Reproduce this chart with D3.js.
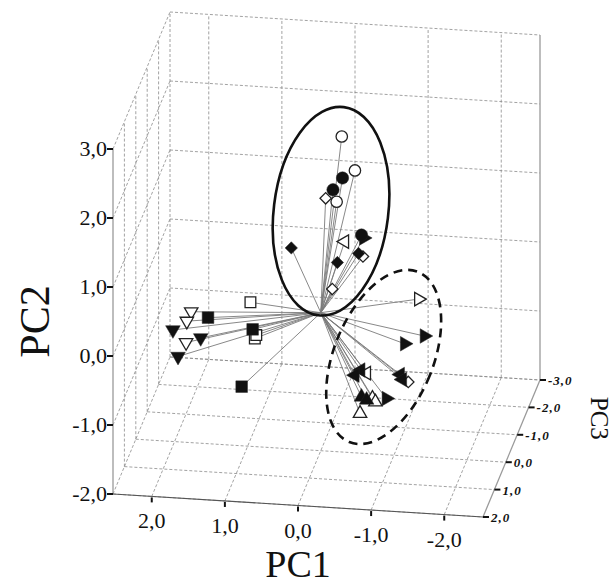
<!DOCTYPE html>
<html><head><meta charset="utf-8">
<script src="https://cdn.jsdelivr.net/npm/d3@7"></script>
<style>body{margin:0;background:#fff}text{font-family:"Liberation Serif","Times New Roman",serif;fill:#111}</style>
</head><body>
<svg id="c" width="613" height="587"></svg>
<script>
// ---- axes ----
const pc1Ticks = [2, 1, 0, -1, -2];
const pc2Ticks = [-2, -1, 0, 1, 2, 3];
const pc3Ticks = [-3, -2, -1, 0, 1, 2];
const pc1Domain = [2.53, -2.53];
const pc2Domain = [-2, 3];
const pc3Domain = [2, -3];

// ---- data (PC1, PC2, PC3), marker shape, filled ----
const shapes = [
  "circle","circle","circle","circle","diamond","circle","triRight","circle","triLeft","diamond","diamond","diamond","diamond","diamond",
  "triDown","triDown","square","square","triDown","triDown","triDown","triDown","square","square","square","square",
  "triRight","triRight","triRight","triLeft","triLeft","triLeft","diamond","triLeft","triLeft","triUp","triUp","triUp","triUp","triRight","triUp"
];
const filled = [
  0,0,1,1,0,0,1,1,0,1,0,1,1,0,
  0,0,1,0,1,1,0,1,0,0,1,1,
  0,1,1,0,1,1,0,1,1,0,0,1,1,1,0
];
const pc1 = [
  -0.24,-0.42,-0.25,-0.12,-0.02,-0.17,-0.54,-0.51,-0.28,0.45,-0.53,-0.47,-0.18,-0.11,
  1.71,1.77,1.48,0.90,1.96,1.58,1.78,1.89,0.84,0.82,0.87,1.02,
  -1.43,-1.51,-1.24,-0.72,-0.64,-0.56,-1.29,-1.18,-1.21,-0.80,-0.84,-0.65,-0.72,-0.99,-0.63
];
const pc2 = [
  2.45,1.97,1.85,1.67,1.54,1.50,1.00,1.04,0.93,0.79,0.73,0.77,0.62,0.23,
  0.06,-0.08,-0.01,0.25,-0.22,-0.31,-0.39,-0.60,-0.27,-0.22,-0.14,-0.98,
  0.53,0.00,-0.13,-0.59,-0.55,-0.63,-0.68,-0.58,-0.65,-0.95,-1.00,-0.94,-0.98,-0.94,-1.18
];
const pc3 = [
  -0.3,-0.3,-0.3,-0.3,-0.3,-0.3,-0.3,-0.3,-0.3,-0.3,-0.3,-0.3,-0.3,-0.3,
  0.4,0.4,0.4,0.4,0.4,0.4,0.4,0.4,0.4,0.4,0.4,0.4,
  0.6,0.6,0.6,0.6,0.6,0.6,0.6,0.6,0.6,0.6,0.6,0.6,0.6,0.6,0.6
];
// group ellipses: centre (PC1,PC2,PC3), radii in PC2 units, tilt (deg), dashed
const ellCenter = [[-0.14, 1.48, 0], [-0.86, -0.585, 0]];
const ellRadii = [[0.83, 1.52], [0.72, 1.33]];
const ellTilt = [7, 22];
const ellDashed = [false, true];

const fmt = d => d.toFixed(1).replace(".", ",");

// ---- projection built from linear scales ----
const s1 = d3.scaleLinear().domain(pc1Domain).range([0, 1]);
const s2 = d3.scaleLinear().domain(pc2Domain).range([0, 1]);
const s3 = d3.scaleLinear().domain(pc3Domain).range([0, 1]);
const P0 = [113, 494], U = [370, 23], V = [0, -345], Wv = [57, -137];
function proj(a, b, c) {
  const u = s1(a), v = s2(b), w = s3(c);
  return [P0[0] + u*U[0] + v*V[0] + w*Wv[0], P0[1] + u*U[1] + v*V[1] + w*Wv[1]];
}
const unitPC2 = 345 / 5;

const svg = d3.select("#c");
const g = svg.append("g");
const x0 = pc1Domain[0], x1 = pc1Domain[1], y0 = pc2Domain[0], y1 = pc2Domain[1], z0 = pc3Domain[0], z1 = pc3Domain[1];

function seg(a, b, cls) {
  const p = proj(...a), q = proj(...b);
  const l = g.append("line").attr("x1", p[0]).attr("y1", p[1]).attr("x2", q[0]).attr("y2", q[1]);
  if (cls === "grid") l.attr("stroke", "#8a8a8a").attr("stroke-width", 0.8).attr("stroke-dasharray", "3,2");
  else if (cls === "edge") l.attr("stroke", "#9a9a9a").attr("stroke-width", 1.3);
  else if (cls === "axis") l.attr("stroke", "#555").attr("stroke-width", 1.1);
  return l;
}
// back wall
pc1Ticks.forEach(t => seg([t, y0, z1], [t, y1, z1], "grid"));
pc2Ticks.forEach(t => seg([x0, t, z1], [x1, t, z1], "grid"));
// left wall
pc3Ticks.filter(t => t !== z0).forEach(t => seg([x0, y0, t], [x0, y1, t], "grid"));
pc2Ticks.forEach(t => seg([x0, t, z0], [x0, t, z1], "grid"));
// floor
pc1Ticks.forEach(t => seg([t, y0, z0], [t, y0, z1], "grid"));
pc3Ticks.forEach(t => seg([x0, y0, t], [x1, y0, t], "grid"));
// solid edges
seg([x0, y0, z0], [x0, y1, z0], "edge");
seg([x1, y0, z1], [x1, y1, z1], "edge");
seg([x0, y0, z0], [x1, y0, z0], "axis");
seg([x1, y0, z0], [x1, y0, z1], "edge");

// ticks & labels
pc2Ticks.forEach(t => {
  const p = proj(x0, t, z0);
  g.append("line").attr("x1", p[0]-6).attr("x2", p[0]).attr("y1", p[1]).attr("y2", p[1]).attr("stroke", "#111").attr("stroke-width", 2);
  g.append("text").attr("x", p[0]-6).attr("y", p[1]+7).attr("text-anchor", "end").attr("font-size", 22).text(fmt(t));
});
pc1Ticks.forEach(t => {
  const p = proj(t, y0, z0);
  g.append("line").attr("x1", p[0]).attr("x2", p[0]).attr("y1", p[1]+1).attr("y2", p[1]+6).attr("stroke", "#111").attr("stroke-width", 2);
  g.append("text").attr("x", p[0]).attr("y", p[1]+32).attr("text-anchor", "middle").attr("font-size", 22).text(fmt(t));
});
pc3Ticks.forEach(t => {
  const p = proj(x1, y0, t);
  g.append("line").attr("x1", p[0]).attr("x2", p[0]+6).attr("y1", p[1]).attr("y2", p[1]).attr("stroke", "#111").attr("stroke-width", 2);
  g.append("text").attr("x", p[0]+8).attr("y", p[1]+5).attr("font-size", 13).attr("font-style", "italic").attr("font-weight", "bold").attr("letter-spacing", 1).text(fmt(t));
});
// titles
const t1 = proj(0, y0, z0);
g.append("text").attr("x", t1[0]).attr("y", 577).attr("text-anchor", "middle").attr("font-size", 38).text("PC1");
const t2 = proj(x0, 0.5, z0);
g.append("text").attr("transform", `translate(49,${t2[1]}) rotate(-90)`).attr("text-anchor", "middle").attr("font-size", 42).text("PC2");
const t3 = proj(x1, y0, -0.8);
g.append("text").attr("transform", `translate(${t3[0]+76},${t3[1]-22}) rotate(90)`).attr("text-anchor", "middle").attr("font-size", 25).text("PC3");

// rays from origin
const o = proj(0, 0, 0);
const pts = shapes.map((s, i) => ({shape: s, filled: filled[i], p: proj(pc1[i], pc2[i], pc3[i])}));
g.append("g").selectAll("line").data(pts).join("line")
  .attr("x1", o[0]).attr("y1", o[1]).attr("x2", d => d.p[0]).attr("y2", d => d.p[1])
  .attr("stroke", "#7a7a7a").attr("stroke-width", 0.9);

// ellipses
ellCenter.forEach((c, i) => {
  const p = proj(...c);
  g.append("ellipse").attr("cx", 0).attr("cy", 0)
    .attr("rx", ellRadii[i][0]*unitPC2).attr("ry", ellRadii[i][1]*unitPC2)
    .attr("transform", `translate(${p[0]},${p[1]}) rotate(${ellTilt[i]})`)
    .attr("fill", "none").attr("stroke", "#111").attr("stroke-width", 2.6)
    .attr("stroke-dasharray", ellDashed[i] ? "9,6" : null);
});

// markers
const symType = {circle: d3.symbolCircle, diamond: d3.symbolSquare, square: d3.symbolSquare,
  triUp: d3.symbolTriangle, triDown: d3.symbolTriangle, triLeft: d3.symbolTriangle, triRight: d3.symbolTriangle};
const symSize = {circle: 120, diamond: 76, square: 135, triUp: 92, triDown: 92, triLeft: 92, triRight: 92};
const symRot = {circle: 0, diamond: 45, square: 0, triUp: 0, triDown: 180, triLeft: -90, triRight: 90};
g.append("g").selectAll("path").data(pts).join("path")
  .attr("d", d => d3.symbol().type(symType[d.shape]).size(d.filled ? symSize[d.shape] : symSize[d.shape]*0.85)())
  .attr("transform", d => `translate(${d.p[0]},${d.p[1]}) rotate(${symRot[d.shape]})`)
  .attr("fill", d => d.filled ? "#111" : "#fff")
  .attr("stroke", "#222").attr("stroke-width", d => d.filled ? 0.5 : 1.3);
</script>
</body></html>
